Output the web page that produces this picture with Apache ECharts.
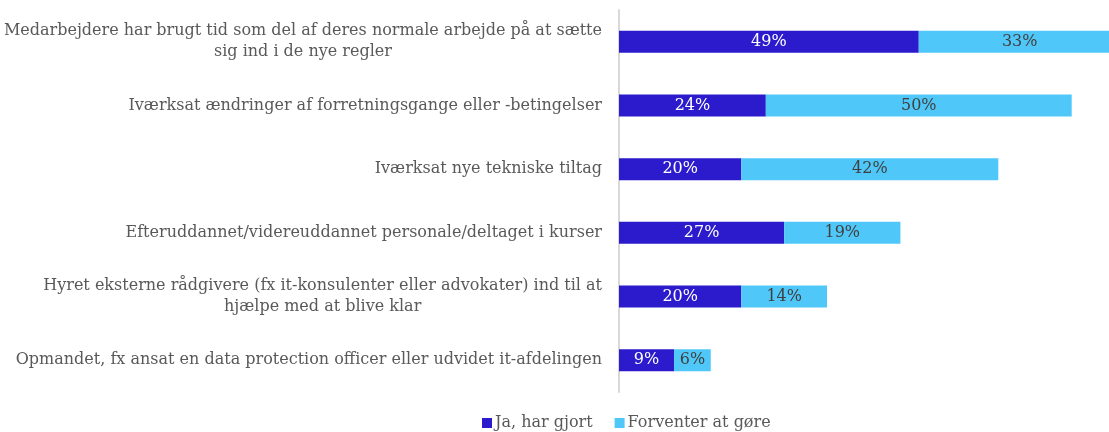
<!DOCTYPE html>
<html>
<head>
<meta charset="utf-8">
<script src="https://cdn.jsdelivr.net/npm/echarts@6/dist/echarts.min.js"></script>
<style>
html,body{margin:0;padding:0;background:#fff;}
#chart{width:1109px;height:432px;}
</style>
</head>
<body>
<div id="chart"></div>
<script>
const categories = [
  "Medarbejdere har brugt tid som del af deres normale arbejde på at sætte\nsig ind i de nye regler",
  "Iværksat ændringer af forretningsgange eller -betingelser",
  "Iværksat nye tekniske tiltag",
  "Efteruddannet/videreuddannet personale/deltaget i kurser",
  "Hyret eksterne rådgivere (fx it-konsulenter eller advokater) ind til at\nhjælpe med at blive klar",
  "Opmandet, fx ansat en data protection officer eller udvidet it-afdelingen"
];
const seriesNames = ["Ja, har gjort", "Forventer at gøre"];
const doneValues = [49, 24, 20, 27, 20, 9];
const expectValues = [33, 50, 42, 19, 14, 6];

const FONT = "DejaVu Serif";
const chart = echarts.init(document.getElementById('chart'));
chart.setOption({
  animation: false,
  color: ['#2b1bcc', '#4fc8f9'],
  grid: { left: 619, top: 10, width: 520, height: 382, outerBoundsMode: 'none', containLabel: false },
  legend: {
    left: 482, top: 412, padding: 0,
    itemWidth: 10, itemHeight: 10, itemGap: 22,
    icon: 'rect',
    textStyle: { fontFamily: FONT, fontSize: 16, lineHeight: 22, color: '#595959', padding: [0, 0, 0, -2] },
    data: seriesNames
  },
  xAxis: {
    type: 'value', min: 0, max: 85,
    show: false
  },
  yAxis: {
    type: 'category', inverse: true, data: categories,
    axisLine: { show: true, lineStyle: { color: '#d9d9d9', width: 2 } },
    axisTick: { show: false },
    axisLabel: {
      margin: 17,
      formatter: function (v) {
        return v.split('\n').map(function (l) { return '{c|' + l + '}'; }).join('\n');
      },
      rich: {
        c: { align: 'center', fontFamily: FONT, fontSize: 16, color: '#595959', lineHeight: 21 }
      }
    }
  },
  series: [
    {
      name: seriesNames[0], type: 'bar', stack: 'a', data: doneValues, barWidth: 22,
      label: { show: true, position: 'inside', formatter: '{c}%', fontFamily: FONT, fontSize: 16, color: '#ffffff' }
    },
    {
      name: seriesNames[1], type: 'bar', stack: 'a', data: expectValues, barWidth: 22,
      label: { show: true, position: 'inside', formatter: '{c}%', fontFamily: FONT, fontSize: 16, color: '#404040' }
    }
  ]
});
</script>
</body>
</html>
